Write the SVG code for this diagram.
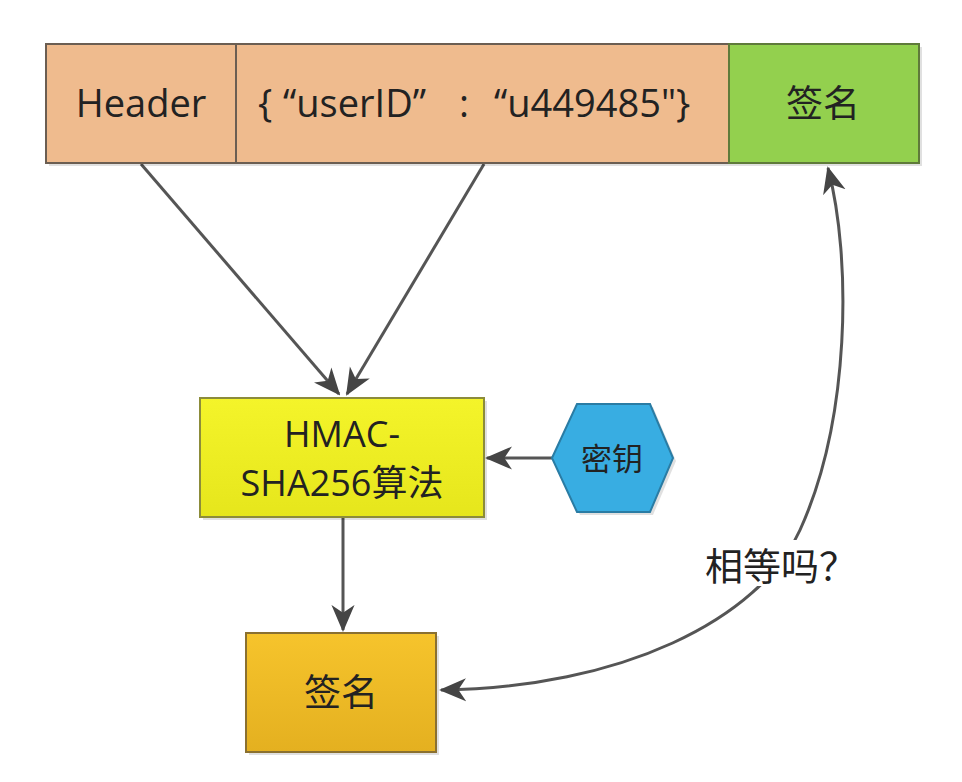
<svg xmlns="http://www.w3.org/2000/svg" width="962" height="782" viewBox="0 0 962 782">
<style>
text{font-family:"Open Sans","Noto Sans","Noto Sans CJK SC",sans-serif;fill:#222;text-anchor:middle;dominant-baseline:central}
text.s{text-anchor:start}
text.cjk{font-family:"Noto Sans CJK SC",sans-serif}
.conn{fill:none;stroke:#555;stroke-width:3}
.shadow{fill:#000;opacity:0.12}
</style>
<defs>
<marker id="ah" viewBox="0 0 14 12" refX="13" refY="6" markerWidth="9" markerHeight="8" markerUnits="strokeWidth" orient="auto-start-reverse">
<path d="M0,0 L14,6 L0,12 L4,6 z" fill="#454545"/>
</marker>
<linearGradient id="gold" x1="0" y1="0" x2="0" y2="1">
<stop offset="0" stop-color="#f6c42c"/><stop offset="1" stop-color="#e4b020"/>
</linearGradient>
<linearGradient id="yel" x1="0" y1="0" x2="0" y2="1">
<stop offset="0" stop-color="#f4f42a"/><stop offset="1" stop-color="#e6e61c"/>
</linearGradient>
</defs>
<rect width="962" height="782" fill="#fff"/>
<g id="connectors">
<line class="conn" x1="141" y1="164" x2="339" y2="394" marker-end="url(#ah)"/>
<line class="conn" x1="484" y1="164" x2="347" y2="394" marker-end="url(#ah)"/>
<line class="conn" x1="552" y1="458" x2="487" y2="458" marker-end="url(#ah)"/>
<line class="conn" x1="343" y1="518" x2="343" y2="630" marker-end="url(#ah)"/>
<path class="conn" d="M441,690 C620,688 760,620 800,530 C850,420 852,260 828,168" marker-start="url(#ah)" marker-end="url(#ah)"/>
</g>
<g id="header">
<rect class="shadow" x="49" y="47" width="190" height="119"/>
<rect x="46" y="44" width="190" height="119" fill="#efbb8e" stroke="#6b5e52" stroke-width="2"/>
<text x="141" y="102" font-size="38">Header</text>
</g>
<g id="payload">
<rect class="shadow" x="239" y="47" width="493" height="119"/>
<rect x="236" y="44" width="493" height="119" fill="#efbb8e" stroke="#6b5e52" stroke-width="2"/>
<text class="s" x="258" y="102" font-size="38">{</text>
<text class="s" x="283" y="102" font-size="38">“userID”</text>
<text class="s" x="459" y="102" font-size="38">:</text>
<text class="s" x="494" y="102" font-size="38">“u449485"}</text>
</g>
<g id="signature-top">
<rect class="shadow" x="732" y="47" width="190" height="119"/>
<rect x="729" y="44" width="190" height="119" fill="#93d04e" stroke="#5f7a3a" stroke-width="2"/>
<text x="823" y="102" font-size="37">签名</text>
</g>
<g id="hmac">
<rect class="shadow" x="203" y="401" width="284" height="119"/>
<rect x="200" y="398" width="284" height="119" fill="url(#yel)" stroke="#8c8c3a" stroke-width="2"/>
<text x="342" y="433" font-size="36">HMAC-</text>
<text x="342" y="482" font-size="36">SHA256算法</text>
</g>
<g id="key">
<polygon points="555,461 580,407 653,407 676,461 653,515 580,515" fill="#000" opacity="0.12"/>
<polygon points="552,458 577,404 650,404 673,458 650,512 577,512" fill="#38ade2" stroke="#2a7ca4" stroke-width="2"/>
<text x="612" y="458" font-size="31">密钥</text>
</g>
<g id="signature-bottom">
<rect class="shadow" x="249" y="636" width="190" height="119"/>
<rect x="246" y="633" width="190" height="119" fill="url(#gold)" stroke="#8a7030" stroke-width="2"/>
<text x="341" y="691" font-size="37">签名</text>
</g>
<g id="label">
<rect x="700" y="540" width="165" height="46" fill="#fff"/>
<text class="cjk" x="781" y="563" font-size="38" fill="#333">相等吗？</text>
</g>
</svg>
